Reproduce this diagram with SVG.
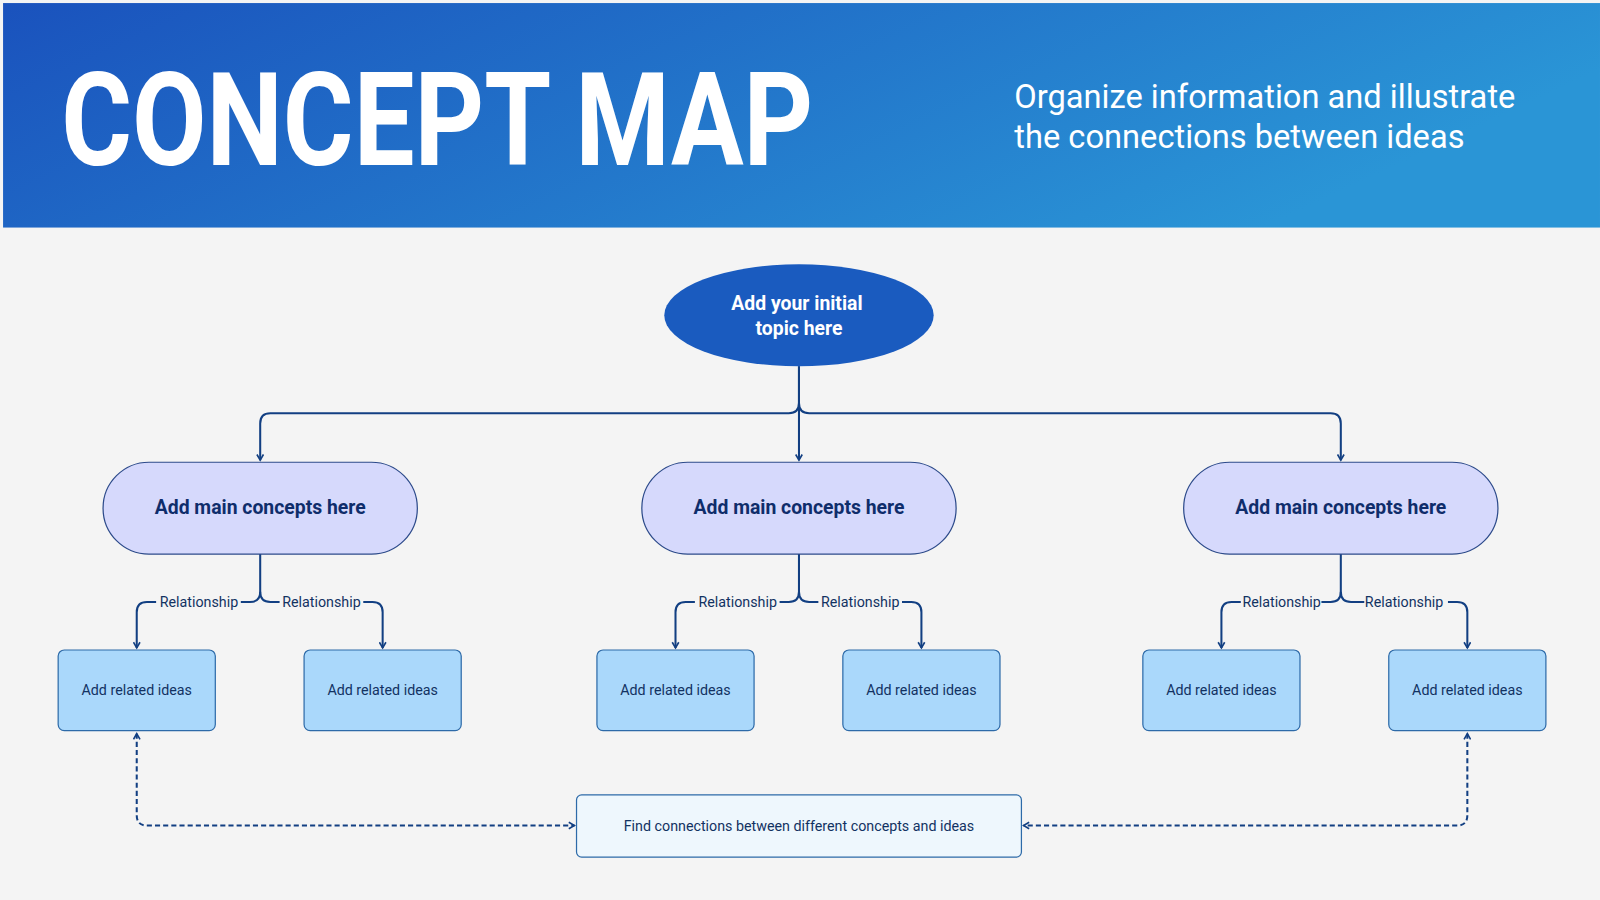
<svg xmlns="http://www.w3.org/2000/svg" width="1600" height="900" viewBox="0 0 1600 900">
<defs>
<linearGradient id="hg" x1="0" y1="0" x2="1" y2="0.3"><stop offset="0" stop-color="#1a52bd"/><stop offset="1" stop-color="#2a95d6"/></linearGradient>
<marker id="ar" viewBox="0 0 10 10" refX="8" refY="5" markerWidth="8" markerHeight="8" orient="auto-start-reverse" markerUnits="userSpaceOnUse"><path d="M1,1 L8,5 L1,9" fill="none" stroke="#123f82" stroke-width="2"/></marker>
</defs>
<style>
text{font-family:Roboto,"Liberation Sans",sans-serif}
.c{fill:none;stroke:#123f82;stroke-width:2}
.d{fill:none;stroke:#123f82;stroke-width:2;stroke-dasharray:5 3}
.pill{fill:#d6d9fc;stroke:#2c4a8a;stroke-width:1.2}
.pt{font-size:19px;font-weight:bold;fill:#0f2d6b;text-anchor:middle}
.box{fill:#aad8fb;stroke:#2d6aa8;stroke-width:1.2}
.bt{font-size:14px;fill:#123262;text-anchor:middle}
.rl{font-size:14px;fill:#123262;text-anchor:middle}
</style>
<rect width="1600" height="900" fill="#f4f4f4"/>
<g transform="scale(1.0204)">
<rect x="3" y="3" width="1565" height="220" fill="url(#hg)"/>
<text x="60" y="162" font-size="128" font-weight="bold" fill="#fff" textLength="737" lengthAdjust="spacingAndGlyphs">CONCEPT MAP</text>
<text x="994" y="106" font-size="32" fill="#fff">Organize information and illustrate</text>
<text x="994" y="145" font-size="32" fill="#fff">the connections between ideas</text>
<g id="connectors">
<path class="c" d="M783,359 V395 Q783,405 773,405 H265 Q255,405 255,415 V451" marker-end="url(#ar)"/>
<path class="c" d="M783,395 Q783,405 793,405 H1304 Q1314,405 1314,415 V451" marker-end="url(#ar)"/>
<path class="c" d="M783,359 V451" marker-end="url(#ar)"/>
<g id="sub1">
<path class="c" d="M255,543 V580 Q255,590 245,590 H236 M153,590 H144 Q134,590 134,600 V635" marker-end="url(#ar)"/>
<path class="c" d="M255,580 Q255,590 265,590 H274 M356,590 H365 Q375,590 375,600 V635" marker-end="url(#ar)"/>
</g>
<g id="sub2" transform="translate(528,0)">
<path class="c" d="M255,543 V580 Q255,590 245,590 H236 M153,590 H144 Q134,590 134,600 V635" marker-end="url(#ar)"/>
<path class="c" d="M255,580 Q255,590 265,590 H274 M356,590 H365 Q375,590 375,600 V635" marker-end="url(#ar)"/>
</g>
<g id="sub3" transform="translate(1063,0)">
<path class="c" d="M251,543 V580 Q251,590 241,590 H232 M153,590 H144 Q134,590 134,600 V635" marker-end="url(#ar)"/>
<path class="c" d="M251,580 Q251,590 261,590 H274 M356,590 H365 Q375,590 375,600 V635" marker-end="url(#ar)"/>
</g>
<path class="d" d="M134,719 V799 Q134,809 144,809 H563" marker-start="url(#ar)" marker-end="url(#ar)"/>
<path class="d" d="M1438,719 V799 Q1438,809 1428,809 H1003" marker-start="url(#ar)" marker-end="url(#ar)"/>
<text class="rl" x="195" y="595">Relationship</text>
<text class="rl" x="315" y="595">Relationship</text>
<text class="rl" x="723" y="595">Relationship</text>
<text class="rl" x="843" y="595">Relationship</text>
<text class="rl" x="1256" y="595">Relationship</text>
<text class="rl" x="1376" y="595">Relationship</text>
</g>
<g id="topic">
<ellipse cx="783" cy="309" rx="132" ry="50" fill="#1a5bbf"/>
<text x="781" y="304" font-size="19" font-weight="bold" fill="#fff" text-anchor="middle">Add your initial</text>
<text x="783" y="328" font-size="19" font-weight="bold" fill="#fff" text-anchor="middle">topic here</text>
</g>
<g id="main1"><rect class="pill" x="101" y="453" width="308" height="90" rx="45"/><text class="pt" x="255" y="504">Add main concepts here</text></g>
<g id="main2"><rect class="pill" x="629" y="453" width="308" height="90" rx="45"/><text class="pt" x="783" y="504">Add main concepts here</text></g>
<g id="main3"><rect class="pill" x="1160" y="453" width="308" height="90" rx="45"/><text class="pt" x="1314" y="504">Add main concepts here</text></g>
<g id="idea1"><rect class="box" x="57" y="637" width="154" height="79" rx="6"/><text class="bt" x="134" y="681">Add related ideas</text></g>
<g id="idea2"><rect class="box" x="298" y="637" width="154" height="79" rx="6"/><text class="bt" x="375" y="681">Add related ideas</text></g>
<g id="idea3"><rect class="box" x="585" y="637" width="154" height="79" rx="6"/><text class="bt" x="662" y="681">Add related ideas</text></g>
<g id="idea4"><rect class="box" x="826" y="637" width="154" height="79" rx="6"/><text class="bt" x="903" y="681">Add related ideas</text></g>
<g id="idea5"><rect class="box" x="1120" y="637" width="154" height="79" rx="6"/><text class="bt" x="1197" y="681">Add related ideas</text></g>
<g id="idea6"><rect class="box" x="1361" y="637" width="154" height="79" rx="6"/><text class="bt" x="1438" y="681">Add related ideas</text></g>
<g id="connect"><rect x="565" y="779" width="436" height="61" rx="5" fill="#eef7fd" stroke="#2d6aa8" stroke-width="1.2"/><text class="bt" x="783" y="814">Find connections between different concepts and ideas</text></g>
</g>
</svg>
